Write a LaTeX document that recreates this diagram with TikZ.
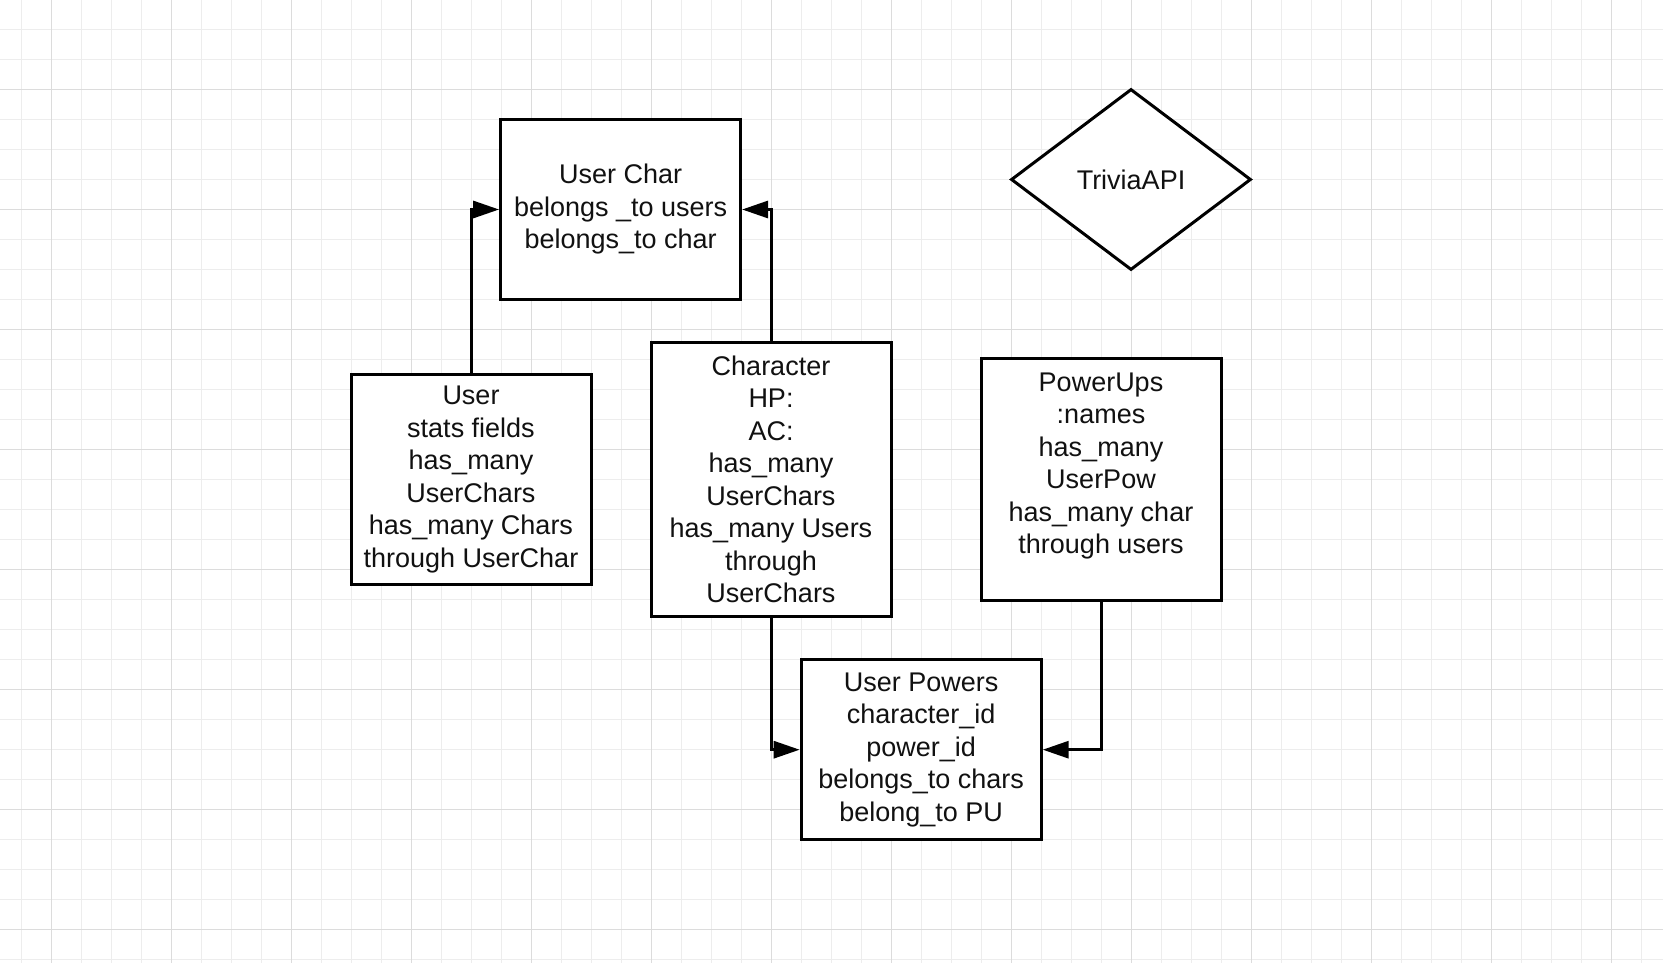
\documentclass[tikz,border=0pt]{standalone}
\usepackage{fontspec}
\setmainfont{Liberation Sans}
\usetikzlibrary{arrows.meta,shapes.geometric}
\definecolor{gridminor}{HTML}{EDEDED}
\definecolor{gridmajor}{HTML}{DCDCDC}
\definecolor{inktext}{HTML}{111111}
\tikzset{
  minorline/.style={draw=gridminor,line width=1pt},
  majorline/.style={draw=gridmajor,line width=1.2pt},
  entity/.style={draw=black,fill=white,line width=3pt,minimum width=240pt,align=center,
    inner sep=0pt,text=inktext,font=\fontsize{27}{32.5}\selectfont},
  api/.style={diamond,draw=black,fill=white,line width=3pt,minimum width=240pt,minimum height=181pt,
    inner sep=0pt,aspect=1.33,text=inktext,font=\fontsize{27}{32.5}\selectfont},
  conn/.style={draw=black,line width=3pt,line join=miter,-{Triangle[length=26pt,width=17pt]}}
}
\begin{document}
\begin{tikzpicture}[x=1pt,y=-1pt]
\useasboundingbox (0,0) rectangle (1663,963);
\fill[white] (0,0) rectangle (1663,963);
\foreach \i in {0,...,54} {\draw[minorline] ({21.5+30*\i},0) -- ({21.5+30*\i},963);}
\foreach \i in {0,...,31} {\draw[minorline] (0,{29.3+30*\i}) -- (1663,{29.3+30*\i});}
\foreach \i in {0,...,13} {\draw[majorline] ({51.5+120*\i},0) -- ({51.5+120*\i},963);}
\foreach \i in {0,...,7} {\draw[majorline] (0,{89.3+120*\i}) -- (1663,{89.3+120*\i});}

\node[entity,minimum height=180pt] (uc) at (620.6,209.5) {User Char\\belongs \_to users\\belongs\_to char};
\node[entity,minimum height=210pt] (user) at (471,479.4) {User\\stats fields\\has\_many\\UserChars\\has\_many Chars\\through UserChar};
\node[entity,minimum height=273.6pt] (char) at (771,479.4) {Character\\HP:\\AC:\\has\_many\\UserChars\\has\_many Users\\through\\UserChars};
\node[entity,minimum height=242pt] (pu) at (1101,479.4) {PowerUps\\:names\\has\_many\\UserPow\\has\_many char\\through users\\\mbox{}};
\node[entity,minimum height=180pt] (up) at (921.2,749.7) {User Powers\\character\_id\\power\_id\\belongs\_to chars\\belong\_to PU};
\node[api] (trivia) at (1131,179.5) {TriviaAPI};

\draw[conn] (user.north) |- (uc.west);
\draw[conn] (char.north) |- (uc.east);
\draw[conn] (char.south) |- (up.west);
\draw[conn] (pu.south) |- (up.east);
\end{tikzpicture}
\end{document}
